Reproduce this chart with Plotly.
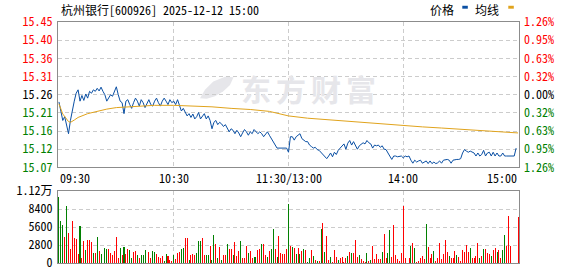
import plotly.graph_objects as go

# ---------------- data ----------------
title_text = "杭州银行[600926] 2025-12-12 15:00"
legend_labels = ["价格", "均线"]
watermark_chars = ["东", "方", "财", "富"]
pre_close = 15.26
max_pct = 1.26

price_tick_labels = ["15.45", "15.40", "15.36", "15.31", "15.26", "15.21", "15.16", "15.12", "15.07"]
pct_tick_labels = ["1.26%", "0.95%", "0.63%", "0.32%", "0.00%", "0.32%", "0.63%", "0.95%", "1.26%"]
vol_tick_values = [11200, 8400, 5600, 2800, 0]
vol_tick_labels = ["1.12万", "8400", "5600", "2800", "0"]
time_labels = ["09:30", "10:30", "11:30/13:00", "14:00", "15:00"]
time_label_minutes = [0, 60, 120, 180, 240]

# minute-by-minute price (index 0 = 09:30, 120 = 11:30/13:00, 240 = 15:00)
price_am = [
    15.241, 15.217, 15.192, 15.202, 15.183, 15.157, 15.192, 15.222, 15.243, 15.264,
    15.273, 15.243, 15.258, 15.245, 15.262, 15.251, 15.269, 15.264, 15.273, 15.269,
    15.277, 15.270, 15.280, 15.269, 15.260, 15.243, 15.251, 15.260, 15.256, 15.269,
    15.281, 15.260, 15.243, 15.239, 15.210, 15.243, 15.247, 15.234, 15.224, 15.239,
    15.251, 15.243, 15.230, 15.247, 15.239, 15.226, 15.239, 15.247, 15.234, 15.230,
    15.243, 15.251, 15.239, 15.230, 15.243, 15.251, 15.243, 15.234, 15.247, 15.239,
    15.243, 15.234, 15.247, 15.234, 15.217, 15.224, 15.213, 15.204, 15.210, 15.200,
    15.209, 15.196, 15.202, 15.213, 15.196, 15.204, 15.210, 15.196, 15.204, 15.192,
    15.170, 15.187, 15.192, 15.181, 15.187, 15.183, 15.176, 15.181, 15.170, 15.162,
    15.170, 15.166, 15.157, 15.166, 15.159, 15.149, 15.159, 15.168, 15.162, 15.153,
    15.162, 15.157, 15.168, 15.162, 15.157, 15.162, 15.157, 15.149, 15.157, 15.162,
    15.153, 15.144, 15.136, 15.127, 15.119, 15.119, 15.119, 15.119, 15.119, 15.119,
    15.108,
]
price_pm = [
    15.149, 15.149, 15.140, 15.149, 15.153, 15.157, 15.144, 15.140, 15.136, 15.136,
    15.127, 15.123, 15.119, 15.121, 15.115, 15.113, 15.108, 15.102, 15.096, 15.091,
    15.098, 15.106, 15.096, 15.108, 15.102, 15.113, 15.119, 15.125, 15.130, 15.116,
    15.132, 15.139, 15.127, 15.136, 15.125, 15.116, 15.125, 15.130, 15.133, 15.130,
    15.139, 15.133, 15.130, 15.119, 15.127, 15.125, 15.127, 15.121, 15.125, 15.116,
    15.115, 15.106, 15.096, 15.089, 15.098, 15.098, 15.096, 15.098, 15.098, 15.093,
    15.098, 15.096, 15.098, 15.087, 15.079, 15.087, 15.082, 15.085, 15.087, 15.079,
    15.082, 15.085, 15.078, 15.085, 15.078, 15.082, 15.078, 15.080, 15.085, 15.079,
    15.087, 15.089, 15.089, 15.087, 15.079, 15.087, 15.089, 15.089, 15.089, 15.091,
    15.106, 15.115, 15.111, 15.108, 15.111, 15.108, 15.106, 15.098, 15.106, 15.098,
    15.102, 15.113, 15.098, 15.106, 15.108, 15.098, 15.108, 15.098, 15.106, 15.098,
    15.098, 15.106, 15.098, 15.098, 15.098, 15.098, 15.098, 15.098, 15.119,
]

avg_minutes = [0, 2, 5, 6, 8, 10, 15, 20, 25, 30, 40, 50, 60, 70, 80, 90, 100, 110, 120,
               130, 140, 150, 160, 170, 180, 190, 200, 210, 220, 230, 240]
avg_price = [15.236, 15.209, 15.189, 15.187, 15.193, 15.200, 15.210, 15.217, 15.222, 15.226,
             15.230, 15.232, 15.232, 15.230, 15.228, 15.224, 15.221, 15.216, 15.204,
             15.198, 15.194, 15.190, 15.186, 15.181, 15.178, 15.175, 15.172, 15.169, 15.166,
             15.163, 15.159]

vol_minutes = [
    0, 1, 2, 3, 4, 5, 6, 7, 8, 9, 10, 11, 12, 13, 14, 15, 16, 17, 18, 19,
    20, 21, 22, 24, 25, 26, 27, 28, 29, 30, 31, 32, 33, 34, 35, 36, 37, 38, 39, 40,
    41, 42, 43, 44, 45, 47, 48, 49, 50, 51, 52, 53, 54, 55, 56, 57, 58, 59, 60, 61,
    62, 63, 64, 65, 66, 67, 68, 69, 70, 71, 72, 73, 74, 75, 76, 77, 78, 79, 80, 81,
    82, 83, 84, 85, 86, 87, 88, 89, 90, 91, 92, 93, 94, 95, 96, 97, 98, 99, 100, 101,
    102, 103, 104, 105, 106, 107, 108, 109, 110, 111, 112, 113, 114, 115, 116, 117, 118, 119, 120,
    121, 122, 123, 124, 125, 126, 127, 128, 129, 130, 131, 132, 133, 134, 135, 136, 137, 138, 139, 140,
    141, 142, 143, 144, 145, 146, 147, 148, 149, 150, 151, 152, 153, 154, 155, 156, 157, 158, 159, 160,
    161, 162, 163, 164, 165, 166, 167, 168, 169, 170, 171, 172, 173, 174, 175, 176, 177, 178, 179, 180,
    181, 183, 184, 185, 186, 187, 188, 189, 190, 191, 192, 193, 194, 195, 196, 197, 198, 199, 200, 201,
    202, 203, 204, 205, 206, 207, 208, 209, 210, 211, 212, 213, 214, 215, 216, 217, 218, 219, 220, 221,
    222, 223, 224, 225, 226, 227, 228, 229, 230, 231, 232, 233, 234, 235, 236, 240,
]
vol_values = [
    10340, 6580, 5920, 3970, 8940, 4720, 2210, 6580, 3820, 3660, 1410, 5770, 800, 3410, 2060, 3560, 3560, 3310, 1560, 1560,
    3970, 1910, 1410, 2310, 2160, 2160, 1560, 1200, 1810, 3970, 700, 2310, 1200, 2460, 1410, 2210, 2060, 700, 1710, 1910,
    1200, 800, 1310, 1310, 2060, 1710, 700, 1910, 1710, 1410, 900, 800, 1050, 300, 1410, 1150, 400, 300, 1310, 650,
    1560, 1710, 2160, 2310, 3820, 3820, 400, 1200, 1410, 1310, 1560, 3410, 3410, 3820, 1200, 1200, 1310, 2560, 500, 4420,
    2960, 800, 2460, 500, 1310, 1310, 2910, 2210, 2110, 1200, 3310, 1100, 1910, 3410, 700, 700, 2560, 1510, 1910, 800,
    900, 900, 2060, 2210, 2910, 2910, 1310, 900, 1910, 2160, 5320, 2160, 900, 4170, 1560, 1410, 1410, 2210, 9240,
    2660, 2460, 2310, 1410, 2310, 1410, 1910, 2210, 2060, 200, 800, 2060, 1150, 500, 300, 300, 5320, 6220, 1710, 4170,
    400, 950, 200, 2060, 950, 400, 800, 950, 200, 800, 1150, 1710, 1560, 1560, 3560, 950, 1310, 650, 300, 200,
    1560, 300, 400, 2610, 550, 1410, 550, 550, 1710, 4570, 800, 1560, 5070, 950, 5920, 1200, 650, 300, 1560, 8940,
    800, 800, 2710, 3060, 2310, 200, 300, 800, 1100, 650, 6070, 2460, 800, 1410, 1910, 300, 800, 3060, 650, 1410,
    3560, 1710, 1100, 800, 800, 1910, 1310, 950, 300, 2060, 1710, 2760, 1710, 2310, 800, 800, 1100, 3060, 800, 1100,
    2160, 2160, 1560, 1410, 1100, 2060, 2310, 1710, 2060, 800, 2010, 4420, 2560, 7330, 2660, 7180,
]
vol_dirs = (
    "GGGRGRRRRRRGRRGRRRGRGRGGGRRRRRRGRGRRGGRRGRGGGRRGGRRRRGGRRRGRRRGGRRGRRRGGGRRGGRGGRGRGRRGRRGRRRGRRRGRRGGRRGRRGRGGRGRRRRRG"
    "RGRGRGRGRGGRGRGRGRGRRGRRRGRRRRGRGRRRGRRRGRGRRRRRGRRGGRRRRRRRRRGRGRRRRRGRRRGRRRRRRRGRRRGRRRRRRGRRRRGRGRRRGRRGRRGGRRRRGRRGRRRR"
)

# ---------------- layout constants (style) ----------------
W, H = 578, 276
ML, MR, MT, MB = 58, 59, 22, 6
PW, PH = W - ML - MR, H - MT - MB
FONT = "Noto Sans Mono CJK SC, Noto Sans CJK SC, monospace"
RED, GREEN, BLACK = "#ff0000", "#008000", "#000000"
RED_BAR, GREEN_BAR = "rgba(255,0,0,0.995)", "rgba(0,128,0,0.995)"
BLUE_LINE, GOLD_LINE = "#0a4fa3", "#e0a31c"
GRID, BORDER = "#cccccc", "#8c8c8c"


def px_x(x):
    return (x - ML) / PW


def px_y(y):
    return (H - MB - y) / PH


price = price_am + price_pm
minutes = list(range(len(price)))

top = pre_close * (1 + max_pct / 100)
bot = pre_close * (1 - max_pct / 100)
n = len(price_tick_labels) - 1
tick_pos = [top - i * (top - bot) / n for i in range(n + 1)]
tick_colors = [RED if i < n // 2 else (BLACK if i == n // 2 else GREEN) for i in range(n + 1)]
left_text = [f'<span style="color:{c}">{t}</span>' for t, c in zip(price_tick_labels, tick_colors)]
right_text = [f'<span style="color:{c}">{t}</span>' for t, c in zip(pct_tick_labels, tick_colors)]

price_dom = [px_y(171.7), 1.0]
vol_dom = [0.0, px_y(196)]

fig = go.Figure()
fig.add_trace(go.Scatter(x=minutes, y=price, mode="lines", line=dict(color=BLUE_LINE, width=1),
                         xaxis="x", yaxis="y", hoverinfo="skip", showlegend=False))
fig.add_trace(go.Scatter(x=avg_minutes, y=avg_price, mode="lines", line=dict(color=GOLD_LINE, width=1),
                         xaxis="x", yaxis="y", hoverinfo="skip", showlegend=False))
fig.add_trace(go.Scatter(x=[0, 240], y=[pre_close, pre_close], mode="lines", line=dict(width=0),
                         xaxis="x", yaxis="y3", hoverinfo="skip", showlegend=False))
fig.add_trace(go.Bar(x=vol_minutes, y=vol_values, width=0.53,
                     marker=dict(color=[RED_BAR if d == "R" else GREEN_BAR for d in vol_dirs],
                                 line=dict(width=0)),
                     xaxis="x2", yaxis="y2", hoverinfo="skip", showlegend=False))

xcommon = dict(range=[-0.5, 240.5], tickvals=[60, 120, 180], showticklabels=False, ticks="",
               showgrid=True, gridcolor=GRID, griddash="4px,3px", gridwidth=1, zeroline=False,
               showline=True, mirror=True, linecolor=BORDER, linewidth=1)

fig.update_layout(
    width=W, height=H,
    margin=dict(l=ML, r=MR, t=MT, b=MB),
    paper_bgcolor="white", plot_bgcolor="white",
    font=dict(family=FONT, size=12, color=BLACK),
    bargap=0, bargroupgap=0,
    xaxis=dict(domain=[0, 1], anchor="y", **xcommon),
    xaxis2=dict(domain=[0, 1], anchor="y2", matches="x", **xcommon),
    yaxis=dict(domain=price_dom, anchor="x", range=[bot, top], tickvals=tick_pos, ticktext=left_text,
               ticks="", ticklabelstandoff=2, showgrid=True, gridcolor=GRID, griddash="4px,3px",
               zeroline=False, showline=True, mirror=True, linecolor=BORDER, linewidth=1,
               tickfont=dict(family=FONT, size=12)),
    yaxis3=dict(overlaying="y", side="right", anchor="x", range=[bot, top], tickvals=tick_pos,
                ticktext=right_text, ticks="", ticklabelstandoff=4, showgrid=False, zeroline=False,
                tickfont=dict(family=FONT, size=12)),
    yaxis2=dict(domain=vol_dom, anchor="x2", range=[0, 11200], tickvals=vol_tick_values,
                ticktext=vol_tick_labels, ticks="", ticklabelstandoff=2, showgrid=True, gridcolor=GRID,
                griddash="4px,3px", zeroline=False, showline=True, mirror=True, linecolor=BORDER,
                linewidth=1, tickfont=dict(family=FONT, size=12, color=BLACK)),
)

annotations = []
# title
annotations.append(dict(text=title_text, xref="paper", yref="paper", x=px_x(59), y=px_y(8.7),
                        xanchor="left", yanchor="middle", showarrow=False,
                        font=dict(family=FONT, size=12, color=BLACK)))
# legend texts
for t, cx in zip(legend_labels, [441.7, 487.3]):
    annotations.append(dict(text=t, xref="paper", yref="paper", x=px_x(cx), y=px_y(8.7),
                            xanchor="center", yanchor="middle", showarrow=False,
                            font=dict(family=FONT, size=12, color=BLACK)))
# time axis labels
anchors = ["left", "center", "center", "center", "right"]
xs = [-0.5, None, None, None, 240.5]
for t, m, a, xx in zip(time_labels, time_label_minutes, anchors, xs):
    annotations.append(dict(text=t, xref="x", yref="paper", x=m if xx is None else xx, y=px_y(181.7),
                            xanchor=a, yanchor="middle", showarrow=False,
                            font=dict(family=FONT, size=12, color=BLACK)))
# watermark
for ch, cx in zip(watermark_chars, [255.5, 290.5, 325.5, 360.5]):
    annotations.append(dict(text=f"<b>{ch}</b>", xref="paper", yref="paper", x=px_x(cx), y=px_y(89.5),
                            xanchor="center", yanchor="middle", showarrow=False,
                            font=dict(family="Noto Sans CJK SC", size=30, color="#e6e6ea")))
fig.update_layout(annotations=annotations)

shapes = []
for x0, col in [(462.3, BLUE_LINE), (508.3, GOLD_LINE)]:
    shapes.append(dict(type="rect", xref="paper", yref="paper", x0=px_x(x0), x1=px_x(x0 + 5.5),
                       y0=px_y(8.3), y1=px_y(5.3), fillcolor=col, line=dict(width=0), layer="above"))
logo_pts = [(200, 100.5), (205, 91.7), (213.3, 83.3), (225, 78.3), (233.5, 78.8), (230, 86.7),
            (223.3, 93.3), (215, 98.3), (206.7, 101)]
path = "M " + " L ".join(f"{px_x(a):.4f},{px_y(b):.4f}" for a, b in logo_pts) + " Z"
shapes.append(dict(type="path", xref="paper", yref="paper", path=path, fillcolor="#e6e6ea",
                   line=dict(width=0), layer="below"))
fig.update_layout(shapes=shapes)

fig.write_html("out.html")
